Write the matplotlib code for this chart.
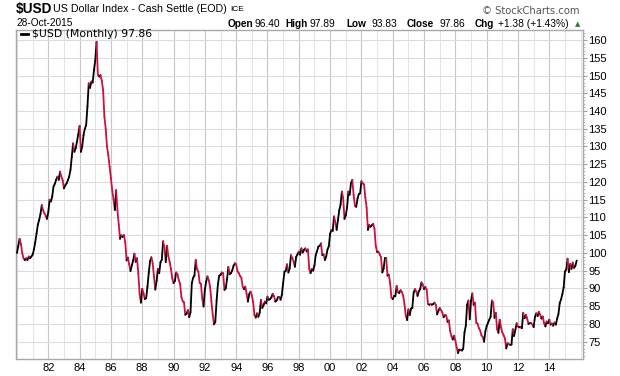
import matplotlib
matplotlib.use("Agg")
import matplotlib.pyplot as plt  # noqa: E402
from matplotlib.collections import LineCollection  # noqa: E402
import numpy as np  # noqa: E402

# monthly closes of $USD, Jan 1980 .. Oct 2015
start_year = 1980
usd_close = [
    100.0, 102.0, 104.0, 102.5, 100.0, 98.5, 98.0, 98.5, 98.0, 99.0, 98.5, 99.0,     # 1980
    99.5, 101.0, 103.0, 105.5, 108.0, 109.3, 111.0, 113.5, 112.0, 111.2, 110.5, 109.6,  # 1981
    111.5, 115.0, 114.5, 115.9, 118.7, 119.5, 120.6, 121.5, 120.6, 122.9, 121.5, 120.5,  # 1982
    118.2, 119.0, 119.6, 120.5, 121.5, 123.4, 127.1, 130.9, 128.5, 129.5, 131.4, 133.5,  # 1983
    135.8, 128.5, 130.0, 133.2, 135.0, 136.0, 141.2, 147.8, 146.5, 148.3, 148.0, 151.5,  # 1984
    154.3, 159.5, 150.2, 149.7, 150.1, 148.5, 145.9, 138.4, 135.0, 130.0, 127.5, 124.3,  # 1985
    121.0, 117.7, 115.0, 112.1, 117.7, 112.0, 108.0, 104.0, 105.0, 104.5, 105.0, 103.0,  # 1986
    97.9, 98.7, 96.8, 94.9, 96.5, 97.8, 99.8, 97.5, 98.5, 94.2, 88.4, 86.0,  # 1987
    89.9, 88.6, 87.0, 87.3, 90.5, 94.4, 97.7, 98.8, 97.1, 93.4, 89.7, 92.1,  # 1988
    95.5, 94.3, 97.4, 98.1, 103.3, 101.6, 97.4, 102.0, 99.1, 97.5, 95.6, 92.9,  # 1989
    91.5, 92.1, 94.5, 94.0, 92.3, 91.4, 87.6, 86.4, 86.1, 82.6, 82.9, 83.9,  # 1990
    81.9, 83.3, 91.5, 93.0, 93.6, 98.0, 95.4, 94.8, 91.6, 91.3, 87.1, 84.9,  # 1991
    89.7, 91.9, 93.4, 92.3, 90.5, 86.4, 82.7, 79.9, 80.6, 86.6, 91.2, 93.6,  # 1992
    93.8, 94.5, 94.3, 89.6, 90.0, 92.6, 96.1, 94.0, 94.3, 95.1, 96.4, 97.1,  # 1993
    96.8, 94.9, 94.3, 93.5, 93.0, 90.5, 89.8, 90.5, 88.5, 86.3, 88.4, 89.1,  # 1994
    88.0, 86.2, 82.5, 81.8, 83.0, 82.0, 83.1, 86.8, 84.5, 85.3, 86.3, 85.8,  # 1995
    87.7, 86.8, 87.0, 87.5, 88.5, 87.8, 86.3, 86.6, 87.5, 87.6, 86.8, 88.2,  # 1996
    91.5, 94.7, 95.0, 96.8, 94.5, 95.6, 99.4, 98.6, 97.6, 96.1, 98.9, 99.6,  # 1997
    100.4, 99.5, 101.3, 100.1, 100.9, 101.3, 100.4, 101.0, 95.5, 94.3, 95.5, 95.0,  # 1998
    96.5, 99.5, 100.5, 101.8, 102.0, 102.7, 99.4, 99.6, 98.0, 99.0, 101.0, 101.9,  # 1999
    105.4, 106.5, 106.2, 110.3, 108.6, 106.5, 109.3, 112.0, 113.6, 117.3, 115.5, 109.6,  # 2000
    110.6, 112.8, 117.3, 116.4, 119.7, 120.6, 116.4, 113.3, 113.0, 115.3, 116.6, 116.8,  # 2001
    120.2, 119.6, 119.3, 115.6, 112.7, 106.5, 107.9, 107.4, 107.8, 108.2, 106.8, 101.9,  # 2002
    100.4, 100.4, 99.6, 98.8, 94.5, 95.6, 98.5, 98.5, 93.6, 93.9, 91.5, 87.4,  # 2003
    87.0, 87.8, 87.8, 90.7, 88.9, 88.7, 89.5, 89.0, 87.9, 85.6, 82.3, 81.1,  # 2004
    84.1, 82.5, 84.3, 84.5, 88.8, 89.8, 89.2, 87.9, 89.2, 89.8, 91.7, 91.1,  # 2005
    89.8, 90.4, 89.7, 85.6, 85.4, 85.6, 85.4, 85.6, 86.0, 85.4, 82.7, 83.7,  # 2006
    84.5, 83.9, 83.2, 81.9, 82.5, 82.4, 80.6, 81.0, 78.0, 76.6, 75.6, 76.7,  # 2007
    75.3, 73.4, 71.8, 72.8, 72.8, 72.5, 73.0, 77.6, 79.5, 85.4, 86.6, 81.3,  # 2008
    86.5, 88.6, 85.4, 86.0, 80.3, 80.1, 78.8, 78.2, 76.8, 76.3, 75.0, 77.9,  # 2009
    79.4, 80.3, 81.2, 82.0, 86.6, 86.0, 81.7, 83.1, 78.5, 77.5, 81.2, 79.0,  # 2010
    77.6, 76.8, 75.9, 73.1, 74.6, 74.3, 74.1, 74.2, 78.5, 76.6, 78.4, 80.2,  # 2011
    79.3, 79.0, 79.0, 78.8, 83.1, 81.6, 82.6, 81.6, 80.0, 80.2, 80.2, 79.8,  # 2012
    79.1, 82.0, 83.0, 82.2, 83.4, 82.6, 81.5, 82.1, 80.2, 79.3, 80.7, 80.2,  # 2013
    81.2, 79.8, 80.1, 79.5, 80.4, 79.8, 81.5, 82.8, 85.9, 86.9, 88.4, 90.3,  # 2014
    94.8, 95.3, 98.4, 94.6, 96.9, 95.5, 97.3, 95.8, 96.4, 97.86,  # 2015
]
y_ticks = list(range(75, 161, 5))
x_label_years = list(range(1982, 2015, 2))
x_labels = [f"{y % 100:02d}" for y in x_label_years]

title_sym = "$USD"
title_name = "US Dollar Index - Cash Settle (EOD)"
title_exch = "ICE"
date_text = "28-Oct-2015"
stats = [("Open", "96.40"), ("High", "97.89"), ("Low", "93.83"),
         ("Close", "97.86"), ("Chg", "+1.38 (+1.43%)")]
legend_text = "$USD (Monthly) 97.86"

UP = "#000000"
DOWN = "#cc1040"
W, H = 620, 376


def fx(x):
    return x / W


def fy(y):
    return 1 - y / H


fig = plt.figure(figsize=(W / 100, H / 100), dpi=100)
ax = fig.add_axes([fx(16.3), fy(359.3), (582.7 - 16.3) / W, (359.3 - 30) / H])

t = start_year + np.arange(len(usd_close)) / 12.0
v = np.array(usd_close)
pts = np.column_stack([t, v]).reshape(-1, 1, 2)
segs = np.concatenate([pts[:-1], pts[1:]], axis=1)
cols = [UP if b >= a else DOWN for a, b in zip(v[:-1], v[1:])]
ax.add_collection(LineCollection(segs, colors=cols, linewidths=1.3,
                                 capstyle="round", joinstyle="round", zorder=3))

ax.set_xlim(1979.956, 2016.133)
ax.set_ylim(70.04, 162.82)

ax.set_xticks(x_label_years)
ax.set_xticklabels(x_labels)
ax.set_xticks(range(1980, 2017), minor=True)
ax.set_yticks(y_ticks)
ax.set_yticks(range(71, 163), minor=True)
ax.yaxis.tick_right()

ax.grid(True, which="major", axis="x", color="#c6c6c6", lw=0.8)
ax.grid(True, which="minor", axis="x", color="#e4e4e4", lw=0.8)
ax.grid(True, which="major", axis="y", color="#dcdcdc", lw=0.8)
ax.set_axisbelow(True)

for lab in ax.get_xticklabels() + ax.get_yticklabels():
    lab.set_fontfamily("Liberation Sans")
    lab.set_fontsize(8)
ax.tick_params(axis="x", which="both", length=0, pad=3)
ax.tick_params(axis="y", which="major", length=3, color="#a0a0a0", pad=1)
ax.tick_params(axis="y", which="minor", length=1.5, color="#b0b0b0")
for s in ax.spines.values():
    s.set_color("#a8a8a8")
    s.set_linewidth(1)

# header
fig.text(fx(16), fy(9), title_sym, fontsize=9.8, fontweight="bold",
         family="Liberation Sans", va="center")
fig.text(fx(53.3), fy(9), title_name, fontsize=7.7, family="Liberation Sans", va="center")
fig.text(fx(230), fy(9.5), title_exch, fontsize=6, family="Liberation Sans", va="center")
fig.text(fx(16), fy(23.3), date_text, fontsize=7.3, family="Liberation Sans", va="center")
fig.text(fx(579), fy(11), "\u00a9 StockCharts.com", fontsize=7.2, family="DejaVu Sans",
         color="#555555", va="center", ha="right")

stat_x = [(227.7, 254.3), (285, 310), (346, 371), (406.7, 439.3), (475, 498.3)]
for (k, val), (xk, xv) in zip(stats, stat_x):
    fig.text(fx(xk), fy(24.3), k, fontsize=7.2, fontweight="bold",
             family="Liberation Sans", va="center")
    fig.text(fx(xv), fy(24.3), val, fontsize=7.4, family="Liberation Sans", va="center")
fig.text(fx(578), fy(24.3), "\u25b2", fontsize=5, color="#2e7d32",
         family="DejaVu Sans", va="center", ha="center")

# legend
fig.add_artist(plt.Line2D([fx(20.7), fx(28.3)], [fy(34.3), fy(34.3)],
                          color=UP, lw=2, transform=fig.transFigure))
fig.text(fx(31.7), fy(34.3), legend_text, fontsize=7.8, family="DejaVu Sans", va="center")

fig.savefig("out.png", dpi=100, facecolor="white")
